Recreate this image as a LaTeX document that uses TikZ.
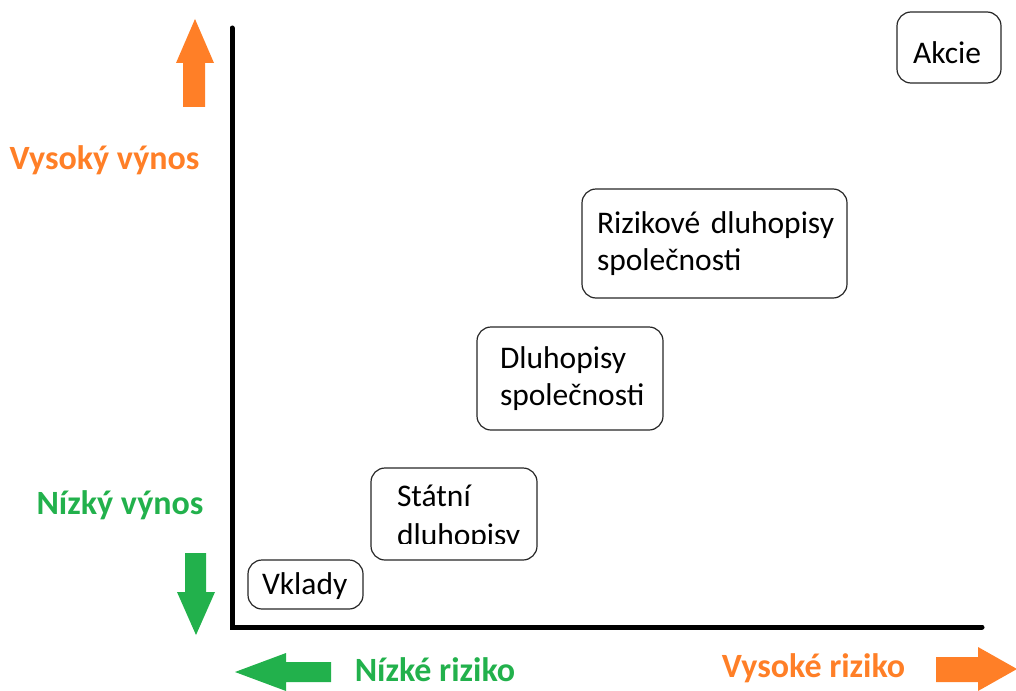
\documentclass[tikz,border=0pt]{standalone}
\usepackage{fontspec}
\setmainfont{Carlito}
\definecolor{paintorange}{HTML}{FF7F27}
\definecolor{paintgreen}{HTML}{22B14C}
\tikzset{
  asset/.style={draw=black!85, rounded corners=14pt, line width=1.2pt, align=left,
    font=\fontsize{31.5}{37}\selectfont, inner ysep=0pt},
  axislabel/.style={font=\fontsize{34}{40}\selectfont\bfseries, inner sep=0pt}
}
\begin{document}
\begin{tikzpicture}[x=1pt, y=-1pt]
\useasboundingbox (0,0) rectangle (1016,690);

% axes
\coordinate (ytop) at (232,28);
\coordinate (origin) at (232,627);
\coordinate (xend) at (982,627);
\draw[line width=5pt, line cap=round] (ytop) -- (origin) -- (xend);

% arrows
\fill[paintorange] (195,19) -- (214,63) -- (205,63) -- (205,107) -- (183,107) -- (183,63) -- (176,63) -- cycle;
\fill[paintgreen] (196,635) -- (215,592) -- (206,592) -- (206,553) -- (185,553) -- (185,592) -- (177,592) -- cycle;
\fill[paintgreen] (235,672) -- (286,653) -- (286,662) -- (331,662) -- (331,682) -- (286,682) -- (286,691) -- cycle;
\fill[paintorange] (1017,669) -- (978,647) -- (978,657) -- (936,657) -- (936,682) -- (978,682) -- (978,691) -- cycle;

% axis texts
\node[axislabel, text=paintorange] (hiyield) at (104.5,160) {Vysoký výnos};
\node[axislabel, text=paintgreen] (loyield) at (120,505) {Nízký výnos};
\node[axislabel, text=paintgreen] (lorisk) at (435,670) {Nízké riziko};
\node[axislabel, text=paintorange] (hirisk) at (813.5,668) {Vysoké riziko};

% investment boxes
\node[asset, minimum width=104pt, minimum height=71pt, inner xsep=16pt, text width=72pt] (akcie) at (949,47.5) {\raisebox{-5pt}[\height][\depth]{Akcie}};
\node[asset, minimum width=265pt, minimum height=109pt, inner xsep=15pt, text width=235pt] (rizdluh) at (714.5,243.5) {\mbox{Rizikové dluhopisy}\\společnosti};
\node[asset, minimum width=186pt, minimum height=103pt, inner xsep=23pt, text width=140pt] (dluh) at (570,378.5) {Dluhopisy\\společnosti};
\node[asset, minimum width=166pt, minimum height=92pt] (statni) at (454,514) {};
\begin{scope}
  \clip (statni.north west) rectangle ([yshift=17pt]statni.south east);
  \node[asset, draw=none, inner xsep=26pt, text width=114pt, font=\fontsize{31.5}{39}\selectfont] (statnitext) at (454,518) {Státní\\dluhopisy};
\end{scope}
\node[asset, minimum width=115pt, minimum height=49pt, inner xsep=14pt, text width=87pt] (vklady) at (305.5,584.5) {\raisebox{-2pt}[\height][\depth]{Vklady}};

\end{tikzpicture}
\end{document}
